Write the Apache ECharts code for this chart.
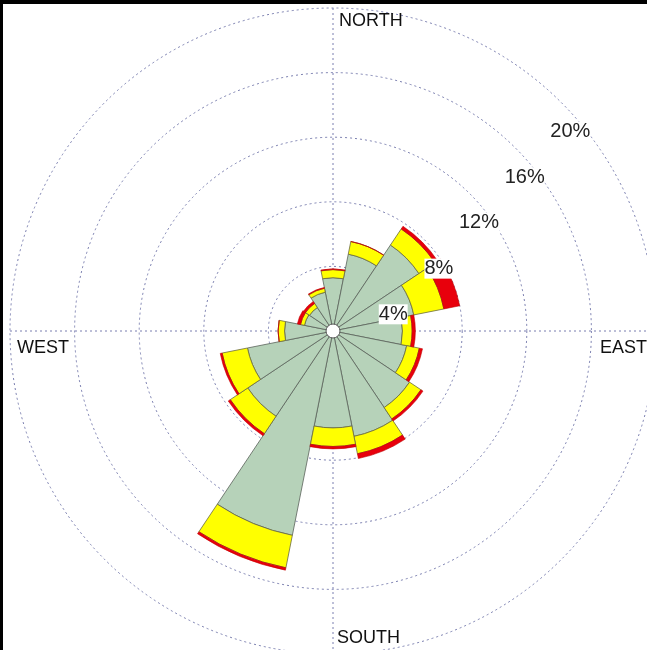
<!DOCTYPE html>
<html>
<head>
<meta charset="utf-8">
<script src="https://cdn.jsdelivr.net/npm/echarts@6/dist/echarts.min.js"></script>
<style>
html,body{margin:0;padding:0;background:#fff;}
#chart{width:647px;height:650px;}
</style>
</head>
<body>
<div id="chart"></div>
<script>
// Wind directions (clockwise from north)
const directions = ['N','NNE','NE','ENE','E','ESE','SE','SSE','S','SSW','SW','WSW','W','WNW','NW','NNW'];
// Frequency (%) per speed class, stacked outward
const lowSpeed  = [3.3, 4.85, 6.4, 5.1, 4.3, 4.65, 5.7, 6.65, 6.0, 12.9, 6.35, 5.4, 3.0, 1.8, 1.75, 2.45];
const midSpeed  = [0.5, 0.8, 1.2, 1.9, 0.6, 0.8, 0.85, 1.1, 1.15, 2.05, 1.3, 1.6, 0.4, 0.25, 0.3, 0.25];
const highSpeed = [0.05, 0, 0.2, 1.0, 0.2, 0.2, 0.15, 0.3, 0.15, 0.15, 0.15, 0.12, 0, 0.2, 0.15, 0.05];
// Radial ticks (%)
const radialTicks = [0, 4, 8, 12, 16, 20];
// Compass labels
const compassLabels = ['NORTH', 'EAST', 'SOUTH', 'WEST'];

const CENTER = [333, 331];
const RADIUS = 323;
const gridColor = '#7b7fb0';
const labelFont = '18px "Liberation Sans", Arial, sans-serif';

const chart = echarts.init(document.getElementById('chart'), null, {renderer: 'canvas'});

const option = {
  animation: false,
  backgroundColor: '#fff',
  polar: [
    {center: CENTER, radius: [0, RADIUS]},
    {center: CENTER, radius: [0, RADIUS]},
    {center: CENTER, radius: [0, RADIUS]}
  ],
  angleAxis: [
    {
      polarIndex: 0, type: 'category', data: directions, startAngle: 90 + 360 / 32, clockwise: true,
      boundaryGap: true,
      axisLine: {show: false}, axisTick: {show: false}, axisLabel: {show: false}, splitLine: {show: false}
    },
    {
      polarIndex: 1, type: 'value', min: 0, max: 360, interval: 90, startAngle: 90, clockwise: true,
      axisLine: {show: false}, axisTick: {show: false}, axisLabel: {show: false},
      splitLine: {show: true, lineStyle: {color: gridColor, type: [2, 3], width: 1}}
    },
    {
      polarIndex: 2, type: 'value', min: 0, max: 360, startAngle: 45, clockwise: true,
      axisLine: {show: false}, axisTick: {show: false}, axisLabel: {show: false}, splitLine: {show: false}
    }
  ],
  radiusAxis: [
    {
      polarIndex: 0, type: 'value', min: 0, max: 20,
      axisLine: {show: false}, axisTick: {show: false}, axisLabel: {show: false}, splitLine: {show: false}
    },
    {
      polarIndex: 1, type: 'value', min: radialTicks[0], max: radialTicks[radialTicks.length - 1], interval: 4,
      axisLine: {show: false}, axisTick: {show: false}, axisLabel: {show: false},
      splitLine: {show: true, lineStyle: {color: gridColor, type: [2, 3], width: 1}}
    },
    {
      polarIndex: 2, type: 'value', min: radialTicks[0], max: radialTicks[radialTicks.length - 1], interval: 4,
      z: 10,
      axisLine: {show: false}, axisTick: {show: false}, splitLine: {show: false},
      axisLabel: {
        show: true,
        margin: -41,
        formatter: v => (v === 0 ? '' : v + '%'),
        color: '#222',
        fontSize: 20,
        fontFamily: '"Liberation Sans", Arial, sans-serif',
        backgroundColor: '#fff'
      }
    }
  ],
  series: [
    {
      name: 'low', type: 'bar', coordinateSystem: 'polar', polarIndex: 0, stack: 'wind',
      data: lowSpeed, barCategoryGap: '0%',
      itemStyle: {color: '#b6d2b9', borderColor: '#5b625b', borderWidth: 0.8}
    },
    {
      name: 'mid', type: 'bar', coordinateSystem: 'polar', polarIndex: 0, stack: 'wind',
      data: midSpeed, barCategoryGap: '0%',
      itemStyle: {color: '#ffff00', borderColor: '#6a6a40', borderWidth: 0.8}
    },
    {
      name: 'high', type: 'bar', coordinateSystem: 'polar', polarIndex: 0, stack: 'wind',
      data: highSpeed, barCategoryGap: '0%',
      itemStyle: {color: '#e8000c', borderColor: '#c00000', borderWidth: 0.6}
    }
  ],
  graphic: [
    {type: 'circle', shape: {cx: CENTER[0], cy: CENTER[1], r: 7}, style: {fill: '#fff', stroke: '#555', lineWidth: 1}, z: 100},
    {type: 'text', left: 339, top: 12, style: {text: compassLabels[0], font: labelFont, fill: '#111'}, z: 100},
    {type: 'text', left: 600, top: 339, style: {text: compassLabels[1], font: labelFont, fill: '#111'}, z: 100},
    {type: 'text', left: 337, top: 629, style: {text: compassLabels[2], font: labelFont, fill: '#111'}, z: 100},
    {type: 'text', left: 17, top: 339, style: {text: compassLabels[3], font: labelFont, fill: '#111'}, z: 100},
    {type: 'rect', shape: {x: 0, y: 0, width: 647, height: 4}, style: {fill: '#000'}, z: 100},
    {type: 'rect', shape: {x: 0, y: 0, width: 3, height: 650}, style: {fill: '#000'}, z: 100}
  ]
};

chart.setOption(option);
</script>
</body>
</html>
